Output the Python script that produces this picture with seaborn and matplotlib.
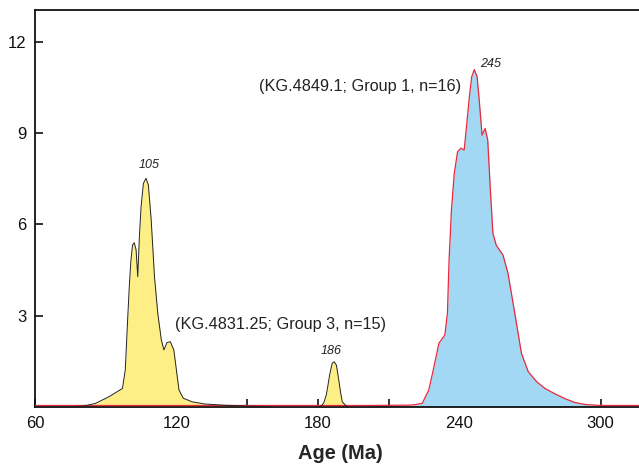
import matplotlib
matplotlib.use("Agg")
import matplotlib.pyplot as plt
import seaborn as sns
import pandas as pd

# Group 3 (KG.4831.25) probability density
g3_age = [60, 75, 80.6, 85.7, 91.4, 97.1, 98.3, 99.3, 100, 100.7, 101.4, 102.1,
          102.9, 103.6, 104.3, 105, 106, 107.1, 108.1, 109.3, 110.7, 112.1,
          113.6, 114.7, 116, 117.4, 118.9, 120, 121.1, 122.9, 126.7, 132,
          140, 150, 160]
g3_val = [0.0, 0.0, 0.02, 0.11, 0.33, 0.6, 1.21, 2.85, 3.95, 4.83, 5.32, 5.40,
          5.16, 4.28, 5.6, 6.58, 7.35, 7.52, 7.30, 6.15, 4.28, 3.07,
          2.2, 1.87, 2.11, 2.14, 1.87, 1.21, 0.55, 0.28, 0.16, 0.09,
          0.05, 0.02, 0.0]

# small separate peak at 186 Ma (same sample)
g3b_age = [180, 181.4, 182.5, 183.6, 184.3, 185, 186.1, 186.9, 187.9, 189,
           189.7, 190.4, 192.1, 193]
g3b_val = [0.0, 0.02, 0.12, 0.39, 0.7, 1.04, 1.43, 1.48, 1.37, 0.82,
           0.45, 0.16, 0.02, 0.0]

# Group 1 (KG.4849.1)
g1_age = [60, 200, 218, 220.7, 224.3, 227.1, 229.3, 231.4, 233.9, 235, 235.7,
          236.7, 237.9, 239.3, 240.7, 242.1, 243.1, 244.3, 245.3, 246.4, 247.6,
          248.6, 249.7, 251, 252.1, 253.3, 254.3, 255.7, 258.6, 260.7, 263.6,
          266.4, 269.3, 272.9, 276.4, 280.7, 285, 289, 293.6, 300, 320]
g1_val = [0.04, 0.04, 0.05, 0.06, 0.11, 0.55, 1.32, 2.09, 2.36, 3.07, 4.83,
          6.47, 7.68, 8.39, 8.51, 8.45, 9.22, 10.2, 10.86, 11.1, 10.86,
          9.99, 8.94, 9.16, 8.78, 7.02, 5.71, 5.32, 4.99, 4.39, 3.07,
          1.76, 1.15, 0.82, 0.6, 0.42, 0.26, 0.14, 0.07, 0.04, 0.04]

peak_labels = ["105", "186", "245"]
peak_pos = [(108.4, 7.75), (185.6, 1.65), (253.3, 11.1)]
sample_labels = ["(KG.4849.1; Group 1, n=16)", "(KG.4831.25; Group 3, n=15)"]
sample_pos = [(198, 10.55), (164.2, 2.7)]

sns.set_style("ticks")
plt.rcParams["font.family"] = ["Liberation Sans", "DejaVu Sans"]

fig = plt.figure(figsize=(6.39, 4.66), dpi=100)
ax = fig.add_axes([35 / 639, (466 - 406.7) / 466, 1 - 35 / 639 + 0.01, (406.7 - 10) / 466])

yellow = "#FDEE86"
blue = "#A3D8F4"

g1 = pd.DataFrame({"age": g1_age, "val": g1_val})
ax.fill_between(g1["age"], 0, g1["val"], color=blue, lw=0, zorder=1)
sns.lineplot(data=g1, x="age", y="val", ax=ax, color="#E8283C", lw=0.9, zorder=3)

for a, v in [(g3_age, g3_val), (g3b_age, g3b_val)]:
    d = pd.DataFrame({"age": a, "val": v})
    ax.fill_between(d["age"], 0, d["val"], color=yellow, lw=0, zorder=2)
    sns.lineplot(data=d, x="age", y="val", ax=ax, color="#222222", lw=0.7, zorder=4)

for t, (x, y) in zip(peak_labels, peak_pos):
    ax.text(x, y, t, ha="center", va="bottom", fontsize=9, style="italic", color="#222222")
for t, (x, y) in zip(sample_labels, sample_pos):
    ax.text(x, y, t, ha="center", va="center", fontsize=11.7, color="#222222")

ax.set_xlim(60, 319)
ax.set_ylim(0, 13.06)
ax.set_xticks([60, 120, 180, 240, 300])
ax.set_xticks([90, 150, 210, 270], minor=True)
ax.set_yticks([3, 6, 9, 12])
ax.tick_params(axis="both", which="both", direction="in", length=6, width=1.2,
               color="#111111", labelsize=12, labelcolor="#111111")
ax.tick_params(axis="x", pad=7)
ax.tick_params(axis="y", pad=6)

for s in ["top", "left", "bottom"]:
    ax.spines[s].set_linewidth(1.3)
    ax.spines[s].set_color("#111111")
ax.spines["right"].set_visible(False)

ax.set_xlabel("Age (Ma)", fontsize=14.4, fontweight="bold", labelpad=9)
ax.set_ylabel("")

fig.savefig("out.png", dpi=100)
